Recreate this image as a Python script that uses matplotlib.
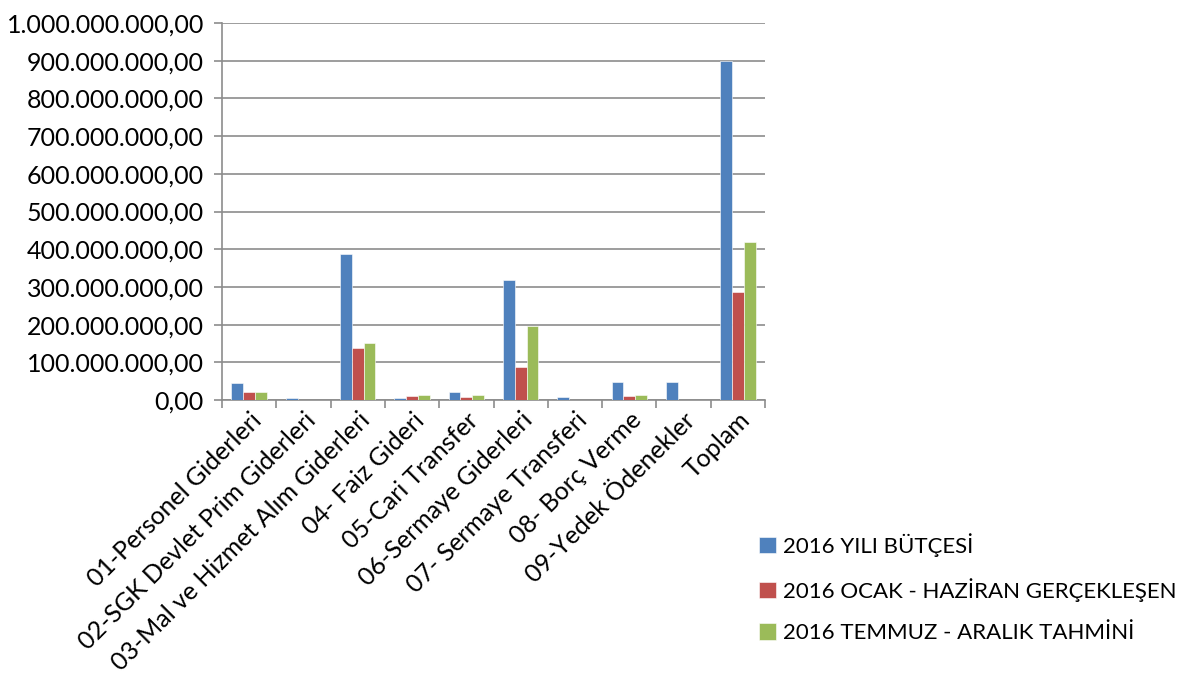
import matplotlib
matplotlib.use("Agg")
import matplotlib.pyplot as plt
from matplotlib.ticker import FuncFormatter, MultipleLocator, FixedLocator
import numpy as np

plt.rcParams['font.family'] = ['Lato', 'DejaVu Sans']

categories = ["01-Personel Giderleri", "02-SGK Devlet Prim Giderleri",
              "03-Mal ve Hizmet Alım Giderleri", "04- Faiz Gideri",
              "05-Cari Transfer", "06-Sermaye Giderleri",
              "07- Sermaye Transferi", "08- Borç Verme",
              "09-Yedek Ödenekler", "Toplam"]
series_names = ["2016 YILI BÜTÇESİ", "2016 OCAK - HAZİRAN GERÇEKLEŞEN",
                "2016 TEMMUZ - ARALIK TAHMİNİ"]
butce = [46e6, 5.5e6, 386e6, 5e6, 20e6, 317e6, 8e6, 47e6, 48e6, 900e6]
ocak_haziran = [20.5e6, 0, 138e6, 11e6, 8e6, 88.5e6, 0, 11e6, 0, 287e6]
temmuz_aralik = [21e6, 0, 150e6, 14e6, 14e6, 197e6, 0, 12.5e6, 0, 419e6]
colors = ["#4F81BD", "#C0504D", "#9BBB59"]

fig = plt.figure(figsize=(11.9, 6.82), dpi=100)
ax = fig.add_axes([222/1190, 1 - 400/682, (765-222)/1190, (400-23)/682])

x = np.arange(len(categories))
w = 0.217
for i, (vals, c, n) in enumerate(zip([butce, ocak_haziran, temmuz_aralik], colors, series_names)):
    ax.bar(x + (i - 1) * w, vals, width=w, color=c, label=n, zorder=3,
           edgecolor='white', linewidth=0.4)

ax.set_xlim(-0.5, len(categories) - 0.5)
ax.set_ylim(0, 1e9)
ax.yaxis.set_major_locator(MultipleLocator(1e8))

def tr_fmt(v, pos):
    s = f"{v:,.2f}"
    return s.replace(",", "X").replace(".", ",").replace("X", ".")
ax.yaxis.set_major_formatter(FuncFormatter(tr_fmt))

ax.grid(axis='y', color='#8C8C8C', linewidth=1.2, zorder=0)
for s in ['top', 'right']:
    ax.spines[s].set_visible(False)
for s in ['left', 'bottom']:
    ax.spines[s].set_color('#8C8C8C')
    ax.spines[s].set_linewidth(1.2)

ax.set_xticks(x)
ax.set_xticklabels(categories, rotation=45, ha='right', rotation_mode='anchor',
                   fontsize=18)
ax.tick_params(axis='x', length=0, pad=6)
ax.xaxis.set_minor_locator(FixedLocator(np.arange(-0.5, len(categories) + 0.5, 1)))
ax.tick_params(axis='x', which='minor', length=6, color='#8C8C8C', width=1.2)
ax.tick_params(axis='y', length=6, color='#8C8C8C', width=1.2, labelsize=18, pad=7)

handles, labels = ax.get_legend_handles_labels()
fig.legend(handles, labels, loc='upper left', bbox_to_anchor=(739/1190, 1 - 513/682),
           frameon=False, fontsize=16, handlelength=0.78, handleheight=0.78,
           handletextpad=0.3, labelspacing=0.95)

fig.savefig("out.png", dpi=100)
